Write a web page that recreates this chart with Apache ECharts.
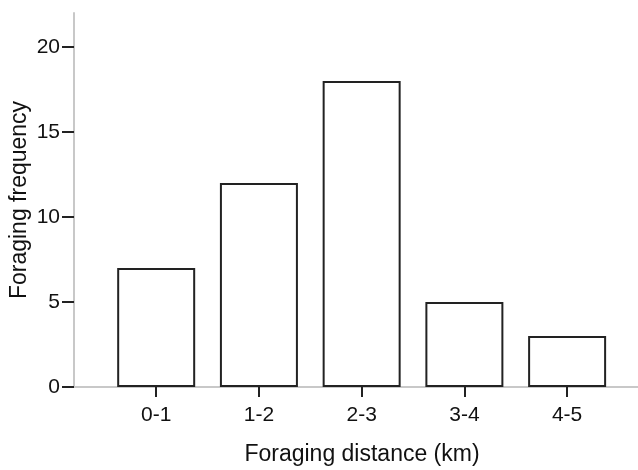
<!DOCTYPE html>
<html>
<head>
<meta charset="utf-8">
<script src="https://cdn.jsdelivr.net/npm/echarts@6/dist/echarts.min.js"></script>
<style>
  html, body { margin: 0; padding: 0; background: #fff; }
  #chart { width: 638px; height: 470px; }
</style>
</head>
<body>
<div id="chart"></div>
<script>
// data
const categories = ["0-1", "1-2", "2-3", "3-4", "4-5"];
const frequency = [7, 12, 18, 5, 3];
const yTicks = [0, 5, 10, 15, 20];

const font = "Liberation Sans, Arial, Helvetica, sans-serif";
const positions = categories.map((c, i) => i + 1);

const chart = echarts.init(document.getElementById("chart"));

const option = {
  animation: false,
  grid: {
    left: 74,
    right: 0,
    top: 13,
    bottom: 83,
    containLabel: false,
    outerBoundsMode: "none",
  },
  xAxis: {
    type: "value",
    min: 0.2,
    max: 5.69,
    name: "Foraging distance (km)",
    nameLocation: "middle",
    nameGap: 56,
    nameMoveOverlap: false,
    nameTextStyle: { fontFamily: font, fontSize: 23, color: "#111", padding: [0, 0, 0, 12] },
    splitLine: { show: false },
    axisLine: { show: true, lineStyle: { color: "#c8c8c8", width: 2 } },
    axisTick: {
      show: true,
      customValues: positions,
      length: 10,
      lineStyle: { color: "#222", width: 2 },
    },
    axisLabel: {
      customValues: positions,
      margin: 18,
      fontFamily: font,
      fontSize: 21,
      color: "#111",
      formatter: (v) => categories[Math.round(v) - 1] || "",
    },
  },
  yAxis: {
    type: "value",
    min: 0,
    max: 22,
    name: "Foraging frequency",
    nameLocation: "middle",
    nameGap: 43,
    nameMoveOverlap: false,
    nameTextStyle: { fontFamily: font, fontSize: 23, color: "#111" },
    splitLine: { show: false },
    axisLine: { show: true, lineStyle: { color: "#c8c8c8", width: 2 } },
    axisTick: {
      show: true,
      customValues: yTicks,
      length: 12,
      lineStyle: { color: "#222", width: 2 },
    },
    axisLabel: {
      customValues: yTicks,
      margin: 14,
      fontFamily: font,
      fontSize: 21,
      color: "#111",
    },
  },
  series: [
    {
      type: "bar",
      barWidth: 78,
      data: positions.map((p, i) => [p, frequency[i]]),
      itemStyle: {
        color: "#fff",
        borderColor: "#222",
        borderWidth: 2,
      },
    },
  ],
};

chart.setOption(option);
</script>
</body>
</html>
